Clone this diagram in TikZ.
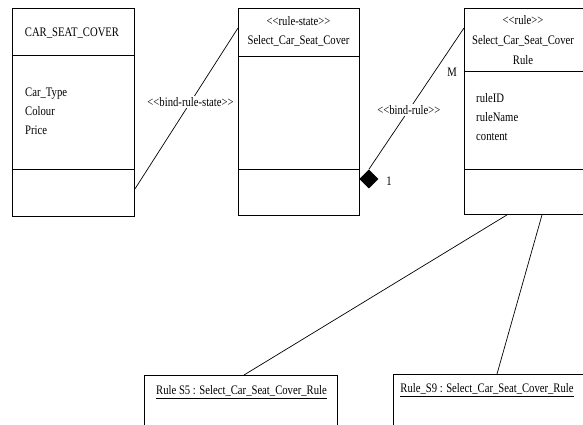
\documentclass[tikz,border=0pt]{standalone}
\usepackage{fontspec}
\setmainfont{Liberation Serif}[FakeStretch=0.82]
\usetikzlibrary{calc,shapes.geometric}
\newcommand{\st}[1]{\textless\kern0pt\textless#1\textgreater\kern0pt\textgreater}
\begin{document}
\begin{tikzpicture}[x=1pt,y=-1pt,
  every node/.style={font=\fontsize{13}{19}\selectfont, inner sep=0pt},
  umlbox/.style={draw, line width=0.9pt, rectangle, anchor=north west},
  comp/.style={line width=0.9pt},
  link/.style={line width=0.7pt},
  lbl/.style={fill=white, inner sep=1.5pt},
  attr/.style={anchor=west, align=left}]
\useasboundingbox (0,0) rectangle (583,425);
\clip (0,0) rectangle (583,425);

% class CAR_SEAT_COVER
\node[umlbox, minimum width=122pt, minimum height=208pt] (car) at (12,8) {};
\draw[comp] ($(car.north west)+(0,47)$) -- ($(car.north east)+(0,47)$);
\draw[comp] ($(car.north west)+(0,161)$) -- ($(car.north east)+(0,161)$);
\node (carname) at (72,33) {CAR\_SEAT\_COVER};
\node[attr] (carattr) at (25,111) {Car\_Type\\Colour\\Price};

% rule-state Select_Car_Seat_Cover
\node[umlbox, minimum width=121pt, minimum height=207pt] (state) at (238,8) {};
\draw[comp] ($(state.north west)+(0,48)$) -- ($(state.north east)+(0,48)$);
\draw[comp] ($(state.north west)+(0,161)$) -- ($(state.north east)+(0,161)$);
\node[align=center] (statename) at (298.5,31) {\st{rule-state}\\Select\_Car\_Seat\_Cover};

% rule Select_Car_Seat_Cover Rule
\node[umlbox, minimum width=130pt, minimum height=206pt] (rule) at (464,8) {};
\draw[comp] ($(rule.north west)+(0,63)$) -- ($(rule.north east)+(0,63)$);
\draw[comp] ($(rule.north west)+(0,161)$) -- ($(rule.north east)+(0,161)$);
\node[align=center, font=\fontsize{13}{20}\selectfont] (rulename) at (523,40) {\st{rule}\\Select\_Car\_Seat\_Cover\\Rule};
\node[attr] (ruleattr) at (476,117) {ruleID\\ruleName\\content};

% rule instances
\node[umlbox, minimum width=193pt, minimum height=60pt] (s5) at (144,375) {};
\node (s5name) at (241.5,392) {\underline{Rule S5 : Select\_Car\_Seat\_Cover\_Rule}};
\node[umlbox, minimum width=200pt, minimum height=60pt] (s9) at (393,374) {};
\node (s9name) at (487,390) {\underline{Rule\_S9 : Select\_Car\_Seat\_Cover\_Rule}};

% bind-rule-state
\coordinate (brs1) at ($(car.north east)+(0,181)$);
\coordinate (brs2) at ($(state.north west)+(0,20)$);
\draw[link] (brs1) -- node[lbl, pos=0.54] (brslbl) {\st{bind-rule-state}} (brs2);

% bind-rule with composition diamond
\node[diamond, fill=black, minimum width=19pt, minimum height=19pt, inner sep=0pt]
  (dia) at ($(state.north east)+(9,171)$) {};
\coordinate (br2) at ($(rule.north west)+(0,20)$);
\draw[link] (dia.north) -- node[lbl, pos=0.42] (brlbl) {\st{bind-rule}} (br2);
\node (mult1) at (389,181) {1};
\node (multM) at (452,72) {M};

% instance links
\coordinate (r1) at ($(rule.south west)+(43,0)$);
\coordinate (r2) at ($(rule.south west)+(78,0)$);
\draw[link] (r1) -- ($(s5.north west)+(100,0)$);
\draw[link] (r2) -- ($(s9.north west)+(104,0)$);
\end{tikzpicture}
\end{document}
